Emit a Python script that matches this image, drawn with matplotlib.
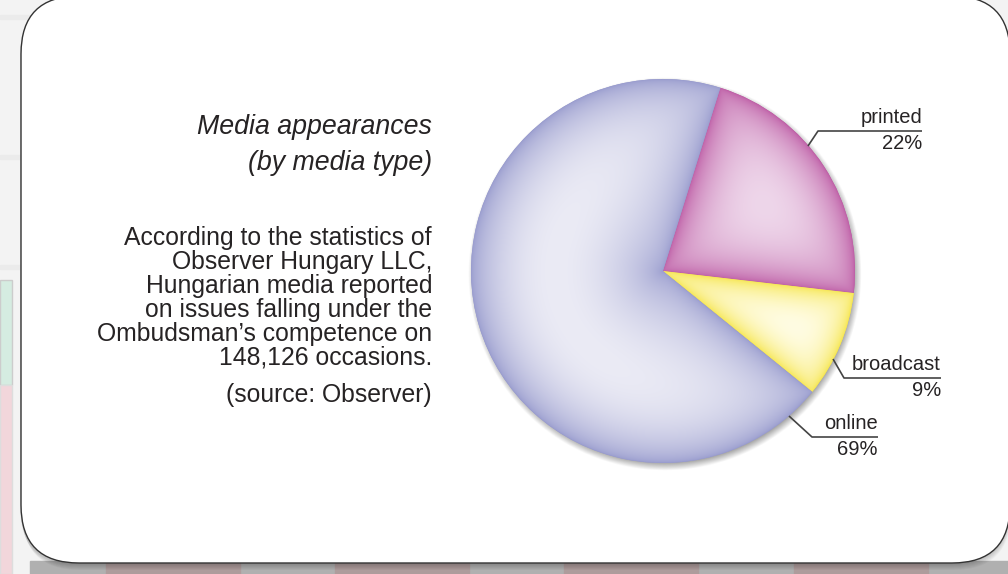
import numpy as np
import matplotlib
matplotlib.use("Agg")
import matplotlib.pyplot as plt
from matplotlib.patches import FancyBboxPatch, Rectangle

plt.rcParams['font.family'] = ['Liberation Sans', 'DejaVu Sans']

# data
labels = ['printed', 'broadcast', 'online']
shares = [22, 9, 69]
pct_labels = ['22%', '9%', '69%']
dark_cols = ['#be5ea6', '#f6e650', '#999cce']
light_cols = ['#eed6ea', '#fffce2', '#ebebf5']

title_lines = ['Media appearances', '(by media type)']
body_lines = ['According to the statistics of',
              'Observer Hungary LLC,',
              'Hungarian media reported',
              'on issues falling under the',
              'Ombudsman\u2019s competence on',
              '148,126 occasions.']
source_text = '(source: Observer)'

W, H = 1008, 574
TXT = '#262324'


def Y(y):
    # picture rows -> axis coords (y up)
    return H - y


fig = plt.figure(figsize=(W / 100, H / 100), dpi=100)
ax = fig.add_axes([0, 0, 1, 1])

# page behind the box
ax.add_patch(Rectangle((0, 0), W, H, color='#f3f3f3', zorder=0))
for yy in [15, 155, 265]:
    ax.add_patch(Rectangle((0, Y(yy + 4)), 30, 4, color='#ebebeb', zorder=0))
ax.add_patch(Rectangle((0, Y(385)), 12, 105, color='#d5ece1', ec='#cccccc', lw=1, zorder=0))
ax.add_patch(Rectangle((0, 0), 12, Y(385), color='#f2d6db', ec='#dddddd', lw=1, zorder=0))
ax.add_patch(Rectangle((30, 0), W, 13, color='#b0b0b0', zorder=0))
for x0 in [106, 335, 564, 794]:
    ax.add_patch(Rectangle((x0, 0), 134, 13, color='#ae9c9c', zorder=0))

# box: x 21..1010, y -4..563 (picture rows)
bx0, bx1, by0, by1, rad = 21, 1010, -4, 563, 58
bw, bh = bx1 - bx0 - 2 * rad, by1 - by0 - 2 * rad
for i in range(6):
    ax.add_patch(FancyBboxPatch((bx0 + rad - 1 + i * 0.4, Y(by1) + rad - 2 - i * 1.0),
                                bw, bh, boxstyle=f'round,pad={rad}', fc='black',
                                ec='none', alpha=0.035, zorder=1))
ax.add_patch(FancyBboxPatch((bx0 + rad, Y(by1) + rad), bw, bh,
                            boxstyle=f'round,pad={rad}', fc='white', ec='#333333',
                            lw=1.0, zorder=2))

cx, cy, R = 663, Y(271), 192

# pie shadow
gx = np.linspace(cx - R - 30, cx + R + 30, 500)
gy = np.linspace(cy - R - 30, cy + R + 30, 500)
GX, GY = np.meshgrid(gx, gy)
dist = np.hypot(GX - (cx + 2), GY - (cy - 3))
sh = np.clip(0.35 * (1 - (dist - (R - 3)) / 8.0), 0, 0.35)
shadow = np.zeros(GX.shape + (4,))
shadow[..., 3] = sh
ax.imshow(shadow, extent=(gx[0], gx[-1], gy[0], gy[-1]), origin='lower',
          zorder=3, interpolation='bilinear')

wedges, _ = ax.pie(shares, colors=dark_cols, startangle=72.6, counterclock=False,
                   center=(cx, cy), radius=R, wedgeprops=dict(linewidth=0, zorder=4))

# soft pillow shading inside each wedge
gx = np.linspace(cx - R, cx + R, 700)
gy = np.linspace(cy - R, cy + R, 700)
GX, GY = np.meshgrid(gx, gy)
r = np.hypot(GX - cx, GY - cy)
th = np.degrees(np.arctan2(GY - cy, GX - cx))
for w, dc, lc in zip(wedges, dark_cols, light_cols):
    t1, t2 = w.theta1, w.theta2
    span = (t2 - t1) % 360
    a1 = (th - t1) % 360
    a2 = span - a1
    inside = (a1 <= span) & (r <= R)
    d1 = np.where(a1 < 90, r * np.sin(np.radians(np.clip(a1, 0, 90))), r)
    d2 = np.where(a2 < 90, r * np.sin(np.radians(np.clip(a2, 0, 90))), r)
    d3 = np.clip(R - r, 0, None)
    eps = 1e-6
    d = (1 / (d1 + eps) ** 2 + 1 / (d2 + eps) ** 2 + 1 / (d3 + eps) ** 2) ** -0.5
    d = np.where(inside, d, 0)
    t = np.clip(d / d.max(), 0, 1) ** 0.6
    c0 = np.array(matplotlib.colors.to_rgb(dc))
    c1 = np.array(matplotlib.colors.to_rgb(lc))
    img = c0 + (c1 - c0) * t[..., None]
    im = ax.imshow(img, extent=(gx[0], gx[-1], gy[0], gy[-1]), origin='lower',
                   zorder=5, interpolation='bilinear')
    im.set_clip_path(w)

# leader lines and labels
leaders = {
    'printed': [(808, 146), (818, 131), (922, 131)],
    'broadcast': [(833, 359), (844, 378), (941, 378)],
    'online': [(789, 416), (812, 437), (878, 437)],
}
for lab, pct in zip(labels, pct_labels):
    pts = leaders[lab]
    ax.plot([p[0] for p in pts], [Y(p[1]) for p in pts], color='#444444', lw=1.2,
            zorder=6, solid_capstyle='butt')
    xe, ye = pts[-1]
    ax.text(xe, Y(ye - 4), lab, ha='right', va='bottom', fontsize=14.5, color=TXT, zorder=7)
    ax.text(xe, Y(ye + 3), pct, ha='right', va='top', fontsize=14.5, color=TXT, zorder=7)

# text block
for i, s in enumerate(title_lines):
    ax.text(432, Y(127 + 36 * i), s, ha='right', va='center', fontsize=19.3,
            style='italic', color=TXT, zorder=7)
for i, s in enumerate(body_lines):
    ax.text(432, Y(238 + 24 * i), s, ha='right', va='center', fontsize=17.8,
            color=TXT, zorder=7)
ax.text(432, Y(395), source_text, ha='right', va='center', fontsize=17.8,
        color=TXT, zorder=7)

ax.set_xlim(0, W)
ax.set_ylim(0, H)
ax.set_aspect('auto')
ax.axis('off')
fig.savefig('out.png', dpi=100)
